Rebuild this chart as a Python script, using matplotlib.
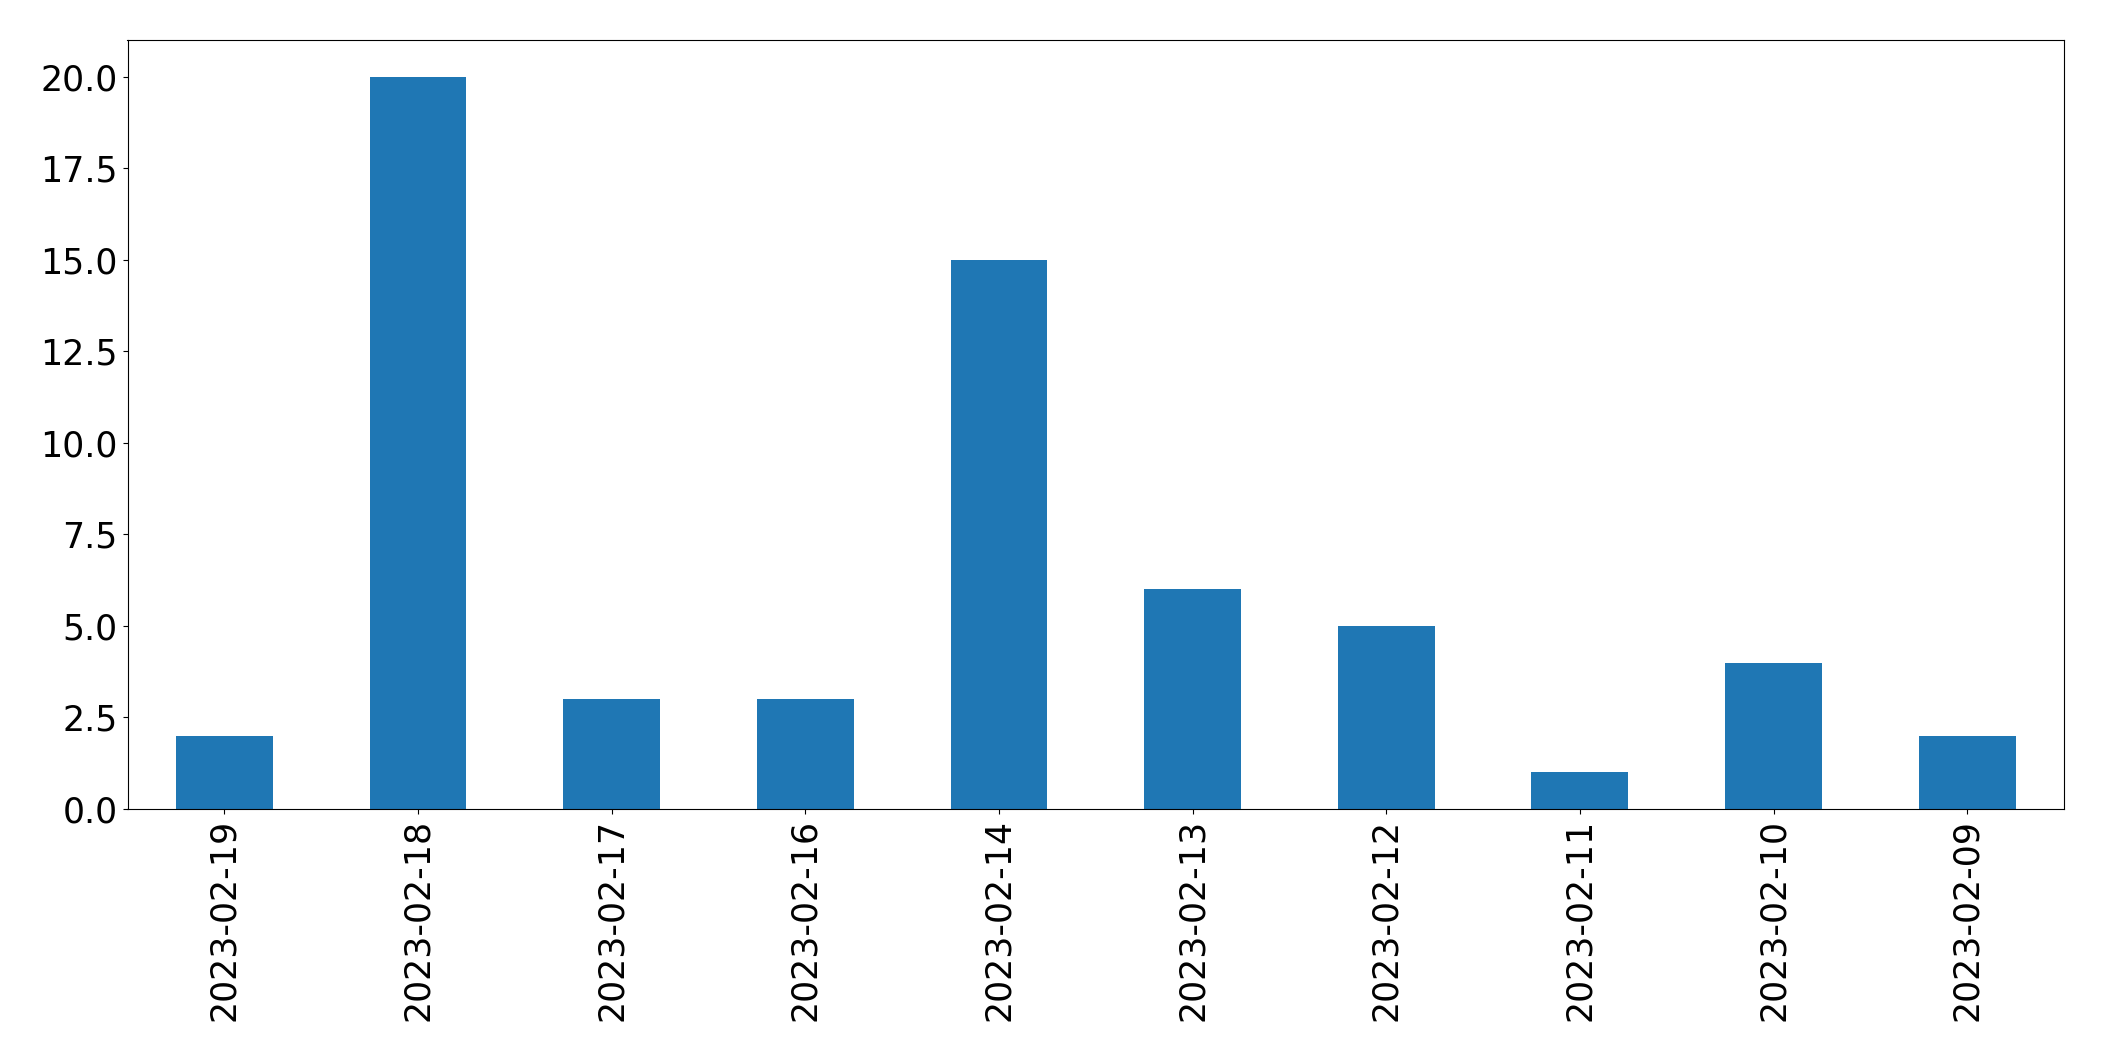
import pandas as pd
import matplotlib
matplotlib.use("Agg")
import matplotlib.pyplot as plt

# daily counts, newest first (as in the original)
dates = ["2023-02-19", "2023-02-18", "2023-02-17", "2023-02-16", "2023-02-14",
         "2023-02-13", "2023-02-12", "2023-02-11", "2023-02-10", "2023-02-09"]
counts = [2, 20, 3, 3, 15, 6, 5, 1, 4, 2]

s = pd.Series(counts, index=dates)

fig = plt.figure(figsize=(21.04, 10.61), dpi=100)
ax = fig.add_axes([127.5 / 2104, 1 - 809 / 1061, (2064 - 127.5) / 2104, (809 - 40) / 1061])
s.plot(kind="bar", ax=ax, color="#1f77b4", fontsize=25)
ax.tick_params(axis="x", labelrotation=90)

fig.savefig("out.png", dpi=100)
